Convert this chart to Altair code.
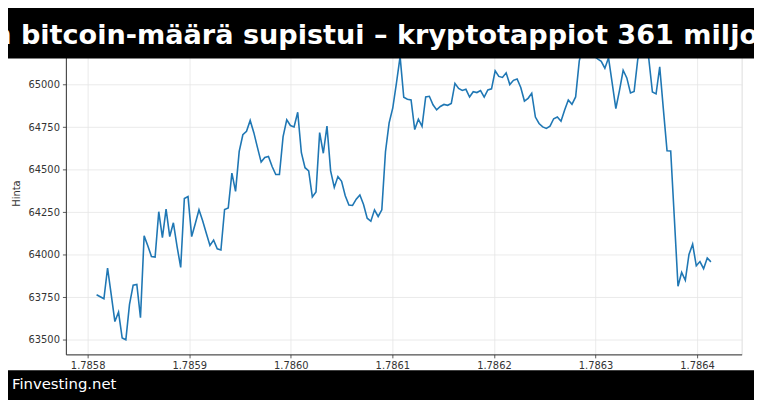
import altair as alt
import pandas as pd

# ---- text ----
title_text = "n bitcoin-määrä supistui – kryptotappiot 361 miljoonaa dollaria"
footer_text = "Finvesting.net"
y_title = "Hinta"

# ---- data (hourly observations, epoch seconds of the first point) ----
start_ts = 1785808800
step_s = 3600
prices = [
    63765, 63753, 63741, 63922, 63765, 63607, 63663, 63510, 63500, 63708,
    63821, 63825, 63630, 64111, 64053, 63990, 63986, 64253, 64101, 64268,
    64107, 64188, 64049, 63926, 64331, 64342, 64107, 64184, 64265, 64200,
    64126, 64055, 64086, 64035, 64028, 64266, 64275, 64480, 64373, 64608,
    64706, 64726, 64790, 64718, 64630, 64545, 64572, 64578, 64519, 64472,
    64472, 64695, 64794, 64760, 64752, 64838, 64600, 64512, 64493, 64340,
    64369, 64718, 64597, 64757, 64493, 64396, 64460, 64432, 64347, 64293,
    64290, 64327, 64352, 64296, 64215, 64197, 64264, 64225, 64264, 64606,
    64776, 64864, 65010, 65165, 64926, 64915, 64911, 64736, 64797, 64755,
    64928, 64932, 64882, 64852, 64872, 64884, 64879, 64890, 65008, 64978,
    64966, 64973, 64928, 64959, 64954, 64966, 64927, 64969, 64976, 65082,
    65049, 65043, 65070, 65001, 65026, 65034, 64984, 64904, 64920, 64950,
    64810, 64772, 64752, 64743, 64756, 64800, 64810, 64785, 64852, 64910,
    64885, 64928, 65140, 65225, 65210, 65190, 65170, 65152, 65138, 65097,
    65158, 65010, 64860, 64967, 65085, 65040, 64952, 64961, 65150, 65215,
    65200, 65155, 64957, 64946, 65105, 64855, 64611, 64610, 64215, 63815,
    63896, 63850, 64002, 64062, 63935, 63960, 63918, 63981, 63958,
]
x_ticks = [1.7858, 1.7859, 1.7860, 1.7861, 1.7862, 1.7863, 1.7864]
y_ticks = [63500, 63750, 64000, 64250, 64500, 64750, 65000]

timestamps = [start_ts + step_s * i for i in range(len(prices))]
df = pd.DataFrame({"t": [t / 1e9 for t in timestamps], "Hinta": prices})

# matplotlib-like 5% margins
x_min, x_max = df["t"].min(), df["t"].max()
x_pad = (x_max - x_min) * 0.05
y_min, y_max = 63414, 65311

W, H = 683, 326
FONT = "DejaVu Sans"
DARK = "#333333"

line = alt.Chart(df).mark_line(color="#1f77b4", strokeWidth=1.6).encode(
    x=alt.X("t:Q",
            scale=alt.Scale(domain=[x_min - x_pad, x_max + x_pad], nice=False, zero=False),
            axis=alt.Axis(values=x_ticks, format=".4f", title=None,
                          labelFontSize=10, labelColor=DARK, labelFont=FONT,
                          tickColor=DARK, tickSize=3.5, tickWidth=0.8,
                          domainColor=DARK, domainWidth=1,
                          gridColor="#e6e6e6", gridWidth=0.8, labelPadding=3,
                          labelFlush=False)),
    y=alt.Y("Hinta:Q",
            scale=alt.Scale(domain=[y_min, y_max], nice=False, zero=False),
            axis=alt.Axis(values=y_ticks, format="d", title=y_title,
                          labelFontSize=10, labelColor=DARK, labelFont=FONT,
                          tickColor=DARK, tickSize=3.5, tickWidth=0.8,
                          domainColor=DARK, domainWidth=1,
                          gridColor="#e6e6e6", gridWidth=0.8, labelPadding=3,
                          titleFont=FONT, titleFontSize=10, titleFontWeight="normal",
                          titleColor=DARK, titleX=-50, titleY=H / 2,
                          titleAlign="center", titleBaseline="middle",
                          labelFlush=False)),
)

one = pd.DataFrame({"k": [0]})

header = alt.Chart(one).mark_rect(color="black").encode(
    x=alt.value(-80), x2=alt.value(W + 40), y=alt.value(-40), y2=alt.value(27)
)
header_text = alt.Chart(one).mark_text(
    color="white", font=FONT, fontSize=27.4, fontWeight="bold",
    align="left", baseline="alphabetic", text=title_text
).encode(x=alt.value(-74.5), y=alt.value(12))

footer = alt.Chart(one).mark_rect(color="black").encode(
    x=alt.value(-80), x2=alt.value(W + 40), y=alt.value(342), y2=alt.value(400)
)
footer_txt = alt.Chart(one).mark_text(
    color="white", font=FONT, fontSize=15,
    align="left", baseline="middle", text=footer_text
).encode(x=alt.value(-54.5), y=alt.value(356))

chart = alt.layer(line, header, header_text, footer, footer_txt).properties(
    width=W, height=H,
    autosize=alt.AutoSizeParams(type="none"),
    padding={"left": 58.5, "top": 22, "right": 12.5, "bottom": 44},
).configure_view(stroke=DARK, strokeWidth=1).configure(background="white")

chart.save("out.html", embed_options={"renderer": "svg", "actions": False})
